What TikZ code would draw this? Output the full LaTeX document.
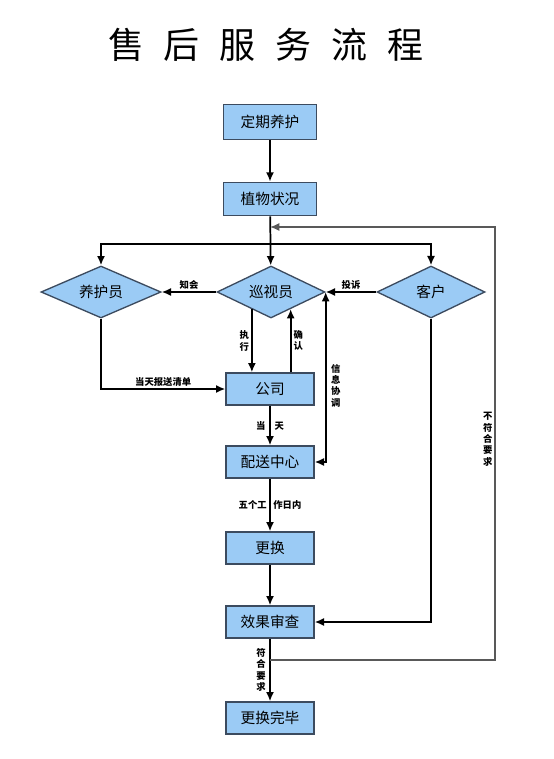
\documentclass[tikz,border=0pt]{standalone}
\usepackage{fontspec}
\setmainfont{Noto Sans CJK SC}
\usetikzlibrary{arrows.meta,shapes.geometric,calc}
\definecolor{kastenblau}{RGB}{155,203,245}
\definecolor{kastenrand}{RGB}{60,75,95}
\tikzset{
  kasten/.style={draw=kastenrand, line width=1pt, fill=kastenblau, minimum width=66pt, minimum height=24pt, inner sep=2pt, font=\fontsize{11}{12}\selectfont},
  raute/.style={diamond, aspect=2.5, draw=kastenrand, line width=1pt, fill=kastenblau, minimum width=81pt, minimum height=39pt, inner sep=0pt, font=\fontsize{11}{12}\selectfont},
  pfeil/.style={line width=1.3pt, -{Latex[length=7pt,width=6pt]}},
  rueckpfeil/.style={line width=0.9pt, draw=black!65, -{Latex[length=7pt,width=6pt]}, color=black!65},
  beschr/.style={font=\fontsize{7}{8.5}\selectfont\bfseries, inner sep=1.5pt, align=center}
}
\begin{document}
\begin{tikzpicture}[x=0.75pt,y=-0.75pt]
      \useasboundingbox (0,0) rectangle (553,759);
      % titel
      \node (titel) at (266,45) {\fontsize{27}{30}\selectfont 售\hspace{15pt}后\hspace{15pt}服\hspace{15pt}务\hspace{15pt}流\hspace{15pt}程};
      % mittlere spalte
      \node[kasten, minimum width=70pt, minimum height=26pt] (dingqi) at (270,122) {定期养护};
      \node[kasten, minimum width=70pt, minimum height=25pt] (zhiwu) at (270,199) {植物状况};
      \node[raute, minimum width=90pt] (yanghu) at (101,292) {养护员};
      \node[raute] (xunshi) at (271,292) {巡视员};
      \node[raute] (kehu) at (431,292) {客户};
      \node[kasten] (gongsi) at (270,389) {公司};
      \node[kasten] (peisong) at (270,462) {配送中心};
      \node[kasten] (genghuan) at (270,548) {更换};
      \node[kasten] (xiaoguo) at (270,622) {效果审查};
      \node[kasten] (wanbi) at (270,718) {更换完毕};
      % hilfspunkte
      \coordinate (gabel) at (270,244);
      \coordinate (ziel) at (270,227);
      \coordinate (rueck) at (495,660);
      \coordinate (zx) at ($(xunshi.south)!0.35!(xunshi.west)$);
      \coordinate (zy) at ($(xunshi.south)!0.36!(xunshi.east)$);
      % pfeile oben
      \draw[pfeil] (dingqi) -- (zhiwu);
      \draw[pfeil] (zhiwu) -- (xunshi);
      \draw[pfeil] (gabel) -| (yanghu);
      \draw[pfeil] (gabel) -| (kehu);
      \draw[pfeil] (xunshi) -- (yanghu) node[beschr, midway, above] {知会};
      \draw[pfeil] (kehu) -- (xunshi) node[beschr, midway, above] {投诉};
      % pfeile zum unternehmen
      \draw[pfeil] (zx) -- (zx |- gongsi.north) node[beschr, midway, left] {执\\行};
      \draw[pfeil] (zy |- gongsi.north) -- (zy) node[beschr, midway, right] {确\\认};
      \draw[pfeil] (yanghu) |- (gongsi) node[beschr, pos=0.75, above] {当天报送清单};
      \draw[pfeil, {Latex[length=7pt,width=6pt]}-{Latex[length=7pt,width=6pt]}] (peisong) -| (xunshi.east) node[beschr, pos=0.725, right, xshift=2pt] {信\\息\\协\\调};
      % pfeile unten
      \draw[pfeil] (gongsi) -- (peisong) node[beschr, midway] {当\hspace{7pt}天};
      \draw[pfeil] (peisong) -- (genghuan) node[beschr, midway] {五个工\hspace{5pt}作日内};
      \draw[pfeil] (genghuan) -- (xiaoguo);
      \draw[pfeil] (xiaoguo) -- (wanbi) node[beschr, midway, left, xshift=-1pt] {符\\合\\要\\求};
      \draw[pfeil] (kehu) |- (xiaoguo);
      % schleife nicht erfuellt
      \draw[rueckpfeil] (xiaoguo.south |- rueck) -- (rueck) |- (ziel) node[beschr, pos=0.255, left, text=black] {不\\符\\合\\要\\求};
\end{tikzpicture}
\end{document}
